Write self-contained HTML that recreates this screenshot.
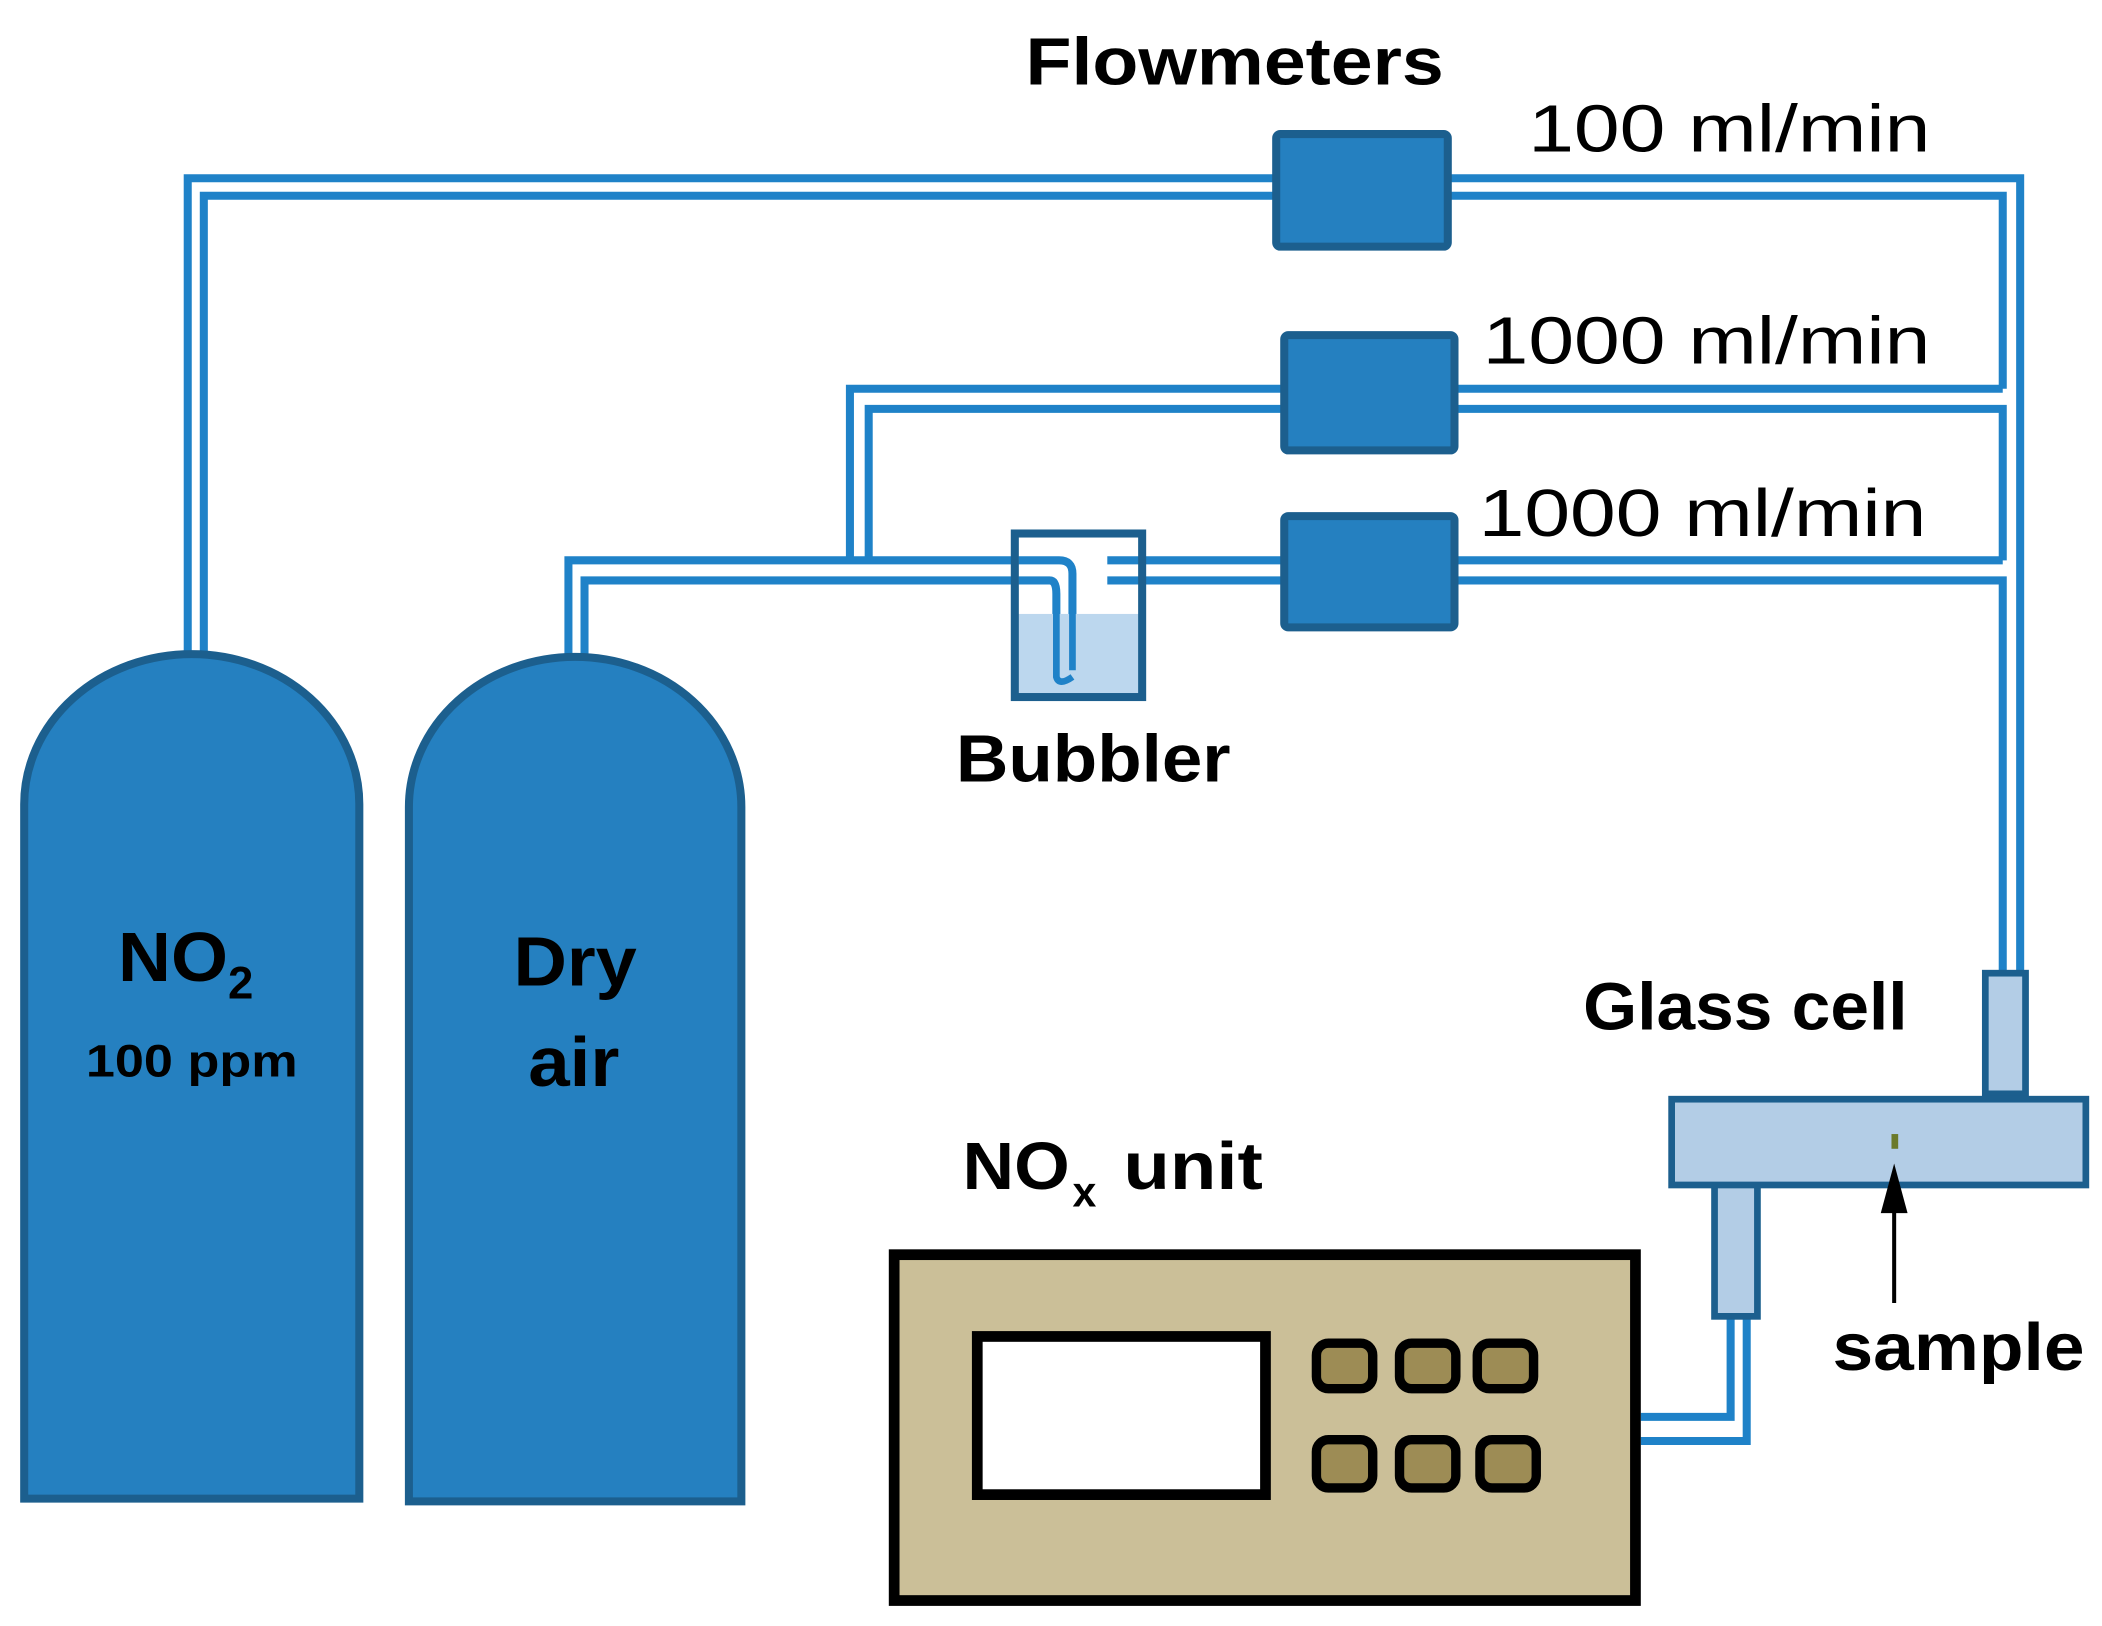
<!DOCTYPE html>
<html><head><style>html,body{margin:0;padding:0;background:#fff}svg{display:block}</style></head>
<body>
<svg width="2102" height="1626" viewBox="0 0 1568 1213" xmlns="http://www.w3.org/2000/svg" font-family="Liberation Sans, sans-serif">
<rect width="1568" height="1213" fill="#fff"/>
<g fill="none" stroke="#1f82c8" stroke-width="6">
<path d="M140 490 V133 H1507 V725"/>
<path d="M152 490 V146 H1494 V290"/>
<path d="M634 418 V290 H1494"/>
<path d="M648 418 V305 H1494 V418"/>
<path d="M424 492 V418 H760"/>
<path d="M436 492 V433 H760"/>
<path d="M760 418 H790 Q800 418 800 428 V500"/>
<path d="M760 433 H783 Q788 433 788 443 V500"/>
<path d="M826 418 H1494"/>
<path d="M826 433 H1494 V725"/>
<path d="M1291 982 V1057 H1224"/>
<path d="M1303 982 V1075 H1224"/>
</g>
<path d="M18 1118 V600 A125 112 0 0 1 268 600 V1118 Z" fill="#2580c0" stroke="#1c5f8e" stroke-width="6"/>
<path d="M305 1120 V602 A124 112 0 0 1 553 602 V1120 Z" fill="#2580c0" stroke="#1c5f8e" stroke-width="6"/>
<g fill="#2580c0" stroke="#1c5f8e" stroke-width="6">
<rect x="952" y="100" width="128" height="84" rx="3"/>
<rect x="958" y="250" width="127" height="86" rx="3"/>
<rect x="958" y="385" width="127" height="83" rx="3"/>
</g>
<rect x="757" y="458" width="95" height="62" fill="#bcd7ee"/>
<rect x="757" y="398" width="95" height="122" fill="none" stroke="#1c5f8e" stroke-width="6"/>
<path d="M800 440 V500 M788 443 V505 Q790 512 800 505" stroke="#1f82c8" stroke-width="5" fill="none"/>
<g fill="#b3cde6" stroke="#1c5f8e" stroke-width="5">
<rect x="1481" y="726" width="30" height="90"/>
<rect x="1279" y="882" width="32" height="100"/>
<rect x="1247" y="820" width="309" height="64"/>
</g>
<rect x="1411" y="846" width="5" height="11" fill="#6b7a2a"/>
<path d="M1413 972 V885" stroke="#000" stroke-width="3"/>
<path d="M1403 905 L1413 868 L1423 905 Z" fill="#000"/>
<rect x="667" y="936" width="553" height="258" fill="#cbbf98" stroke="#000" stroke-width="8"/>
<rect x="729" y="997" width="215" height="118" fill="#fff" stroke="#000" stroke-width="8"/>
<g fill="#9d8c55" stroke="#000" stroke-width="7">
<rect x="982" y="1002" width="42" height="34" rx="9"/>
<rect x="1044" y="1002" width="42" height="34" rx="9"/>
<rect x="1102" y="1002" width="42" height="34" rx="9"/>
<rect x="982" y="1074" width="42" height="36" rx="9"/>
<rect x="1044" y="1074" width="42" height="36" rx="9"/>
<rect x="1104" y="1074" width="42" height="36" rx="9"/>
</g>
<g fill="#000" font-size="50">
<text x="765" y="63" font-weight="bold" textLength="312" lengthAdjust="spacingAndGlyphs">Flowmeters</text>
<text x="1140" y="113" textLength="300" lengthAdjust="spacingAndGlyphs">100 ml/min</text>
<text x="1106" y="271" textLength="334" lengthAdjust="spacingAndGlyphs">1000 ml/min</text>
<text x="1103" y="400" textLength="334" lengthAdjust="spacingAndGlyphs">1000 ml/min</text>
<text x="713" y="583" font-weight="bold" textLength="205" lengthAdjust="spacingAndGlyphs">Bubbler</text>
<text x="88" y="732" font-weight="bold" font-size="52" textLength="82" lengthAdjust="spacingAndGlyphs">NO</text>
<text x="170" y="745" font-weight="bold" font-size="34">2</text>
<text x="64" y="803" font-weight="bold" font-size="34" textLength="158" lengthAdjust="spacingAndGlyphs">100 ppm</text>
<text x="383" y="735" font-weight="bold" font-size="52" textLength="92" lengthAdjust="spacingAndGlyphs">Dry</text>
<text x="394" y="810" font-weight="bold" font-size="52" textLength="68" lengthAdjust="spacingAndGlyphs">air</text>
<text x="1181" y="768" font-weight="bold" textLength="242" lengthAdjust="spacingAndGlyphs">Glass cell</text>
<text x="718" y="887" font-weight="bold" textLength="80" lengthAdjust="spacingAndGlyphs">NO</text>
<text x="800" y="900" font-weight="bold" font-size="32">x</text>
<text x="838" y="887" font-weight="bold" textLength="104" lengthAdjust="spacingAndGlyphs">unit</text>
<text x="1367" y="1022" font-weight="bold" textLength="188" lengthAdjust="spacingAndGlyphs">sample</text>
</g>
</svg>
</body></html>
